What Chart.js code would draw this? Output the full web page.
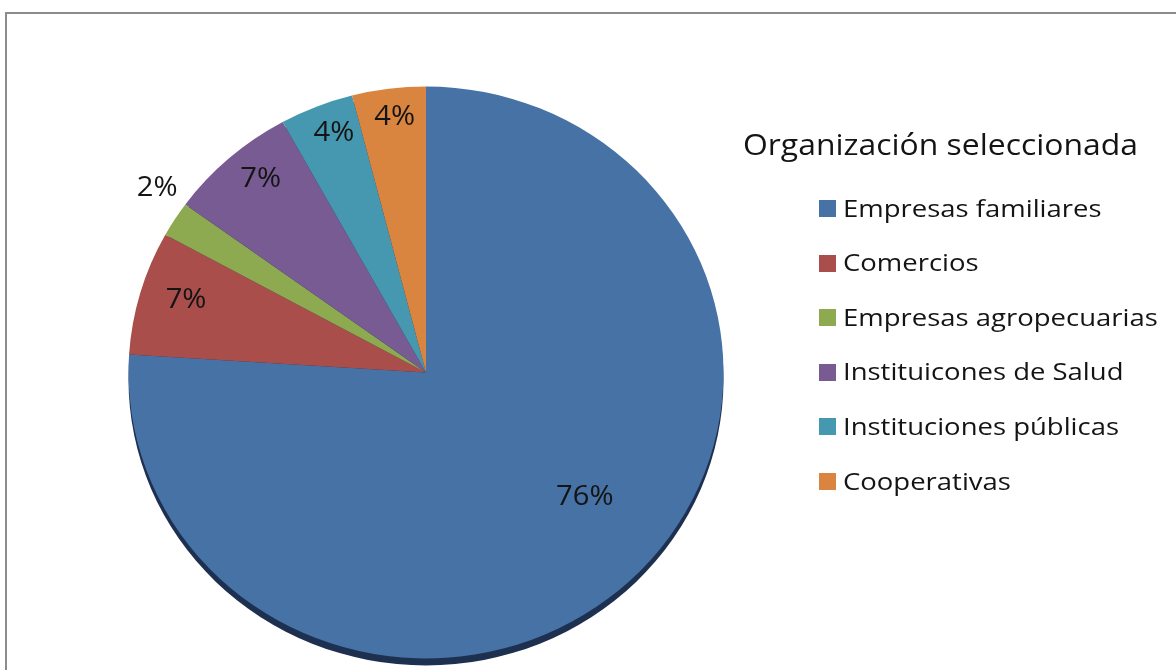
<!DOCTYPE html>
<html><head><meta charset="utf-8">
<script src="https://cdn.jsdelivr.net/npm/chart.js@4.4.1/dist/chart.umd.min.js"></script>
<style>
html,body{margin:0;padding:0;background:#fff;overflow:hidden;}
#wrap{position:relative;width:1176px;height:670px;overflow:hidden;background:#fff;}
#frame{position:absolute;left:5px;top:12px;width:1300px;height:800px;border:2px solid #8c8c8c;box-sizing:border-box;}
canvas{position:absolute;left:0;top:0;}
</style></head><body>
<div id="wrap"><div id="frame"></div><canvas id="c" width="1176" height="670"></canvas></div>
<script>
const categories = ['Empresas familiares','Comercios','Empresas agropecuarias','Instituicones de Salud','Instituciones públicas','Cooperativas'];
const values = [76, 7, 2, 7, 4, 4];
const legendTitle = 'Organización seleccionada';
const colors = ['#4672A5','#A94E4B','#8EAA50','#775B92','#4598AF','#D9853F'];

const SY = 0.961;
const FONT = '"Open Sans", "Noto Sans", sans-serif';

function stretchText(ctx, text, x, y, sx) {
  ctx.save();
  ctx.translate(x, y);
  ctx.scale(sx, 1);
  ctx.fillText(text, 0, 0);
  ctx.restore();
}

const squash = {
  id: 'squash',
  beforeDatasetsDraw(chart) {
    const a = chart.getDatasetMeta(0).data[0];
    const ctx = chart.ctx;
    ctx.save();
    ctx.translate(a.x, a.y); ctx.scale(1, SY); ctx.translate(-a.x, -a.y);
    ctx.fillStyle = '#1e3050';
    ctx.beginPath();
    ctx.arc(a.x, a.y + 7 / SY, a.outerRadius, 0, Math.PI * 2);
    ctx.fill();
  },
  afterDatasetsDraw(chart) {
    const ctx = chart.ctx;
    ctx.restore();
    const meta = chart.getDatasetMeta(0);
    ctx.save();
    ctx.font = '27px ' + FONT;
    ctx.fillStyle = '#141414';
    ctx.textAlign = 'center';
    ctx.textBaseline = 'middle';
    meta.data.forEach((arc, i) => {
      const mid = (arc.startAngle + arc.endAngle) / 2;
      const v = values[i];
      let fx = 0.84, fy = 0.9;
      if (v >= 50) { fx = 0.78; fy = 0.6; }
      else if (v < 3) { fx = 1.07; fy = 1.2; }
      const x = arc.x + Math.cos(mid) * arc.outerRadius * fx;
      const y = arc.y + Math.sin(mid) * arc.outerRadius * fy * SY;
      stretchText(ctx, v + '%', x, y, 1.08);
    });
    ctx.restore();
  },
  afterDraw(chart) {
    const ctx = chart.ctx;
    ctx.save();
    ctx.fillStyle = '#141414';
    ctx.textAlign = 'left';
    ctx.textBaseline = 'alphabetic';
    ctx.font = '29px ' + FONT;
    stretchText(ctx, legendTitle, 743, 155, 1.10);
    ctx.font = '24px ' + FONT;
    categories.forEach((c, i) => {
      const yc = 208 + i * 54.6;
      ctx.fillStyle = colors[i];
      ctx.fillRect(819, Math.round(yc - 8), 17, 17);
      ctx.fillStyle = '#141414';
      stretchText(ctx, c, 843, yc + 8.5, 1.145);
    });
    ctx.restore();
  }
};

new Chart(document.getElementById('c'), {
  type: 'pie',
  data: {
    labels: categories,
    datasets: [{
      data: values,
      backgroundColor: colors,
      borderWidth: 0,
      clip: false
    }]
  },
  options: {
    responsive: false,
    animation: false,
    layout: { padding: { left: 128, right: 452, top: 75, bottom: 0 } },
    plugins: { legend: { display: false }, tooltip: { enabled: false } }
  },
  plugins: [squash]
});
</script>
</body></html>
